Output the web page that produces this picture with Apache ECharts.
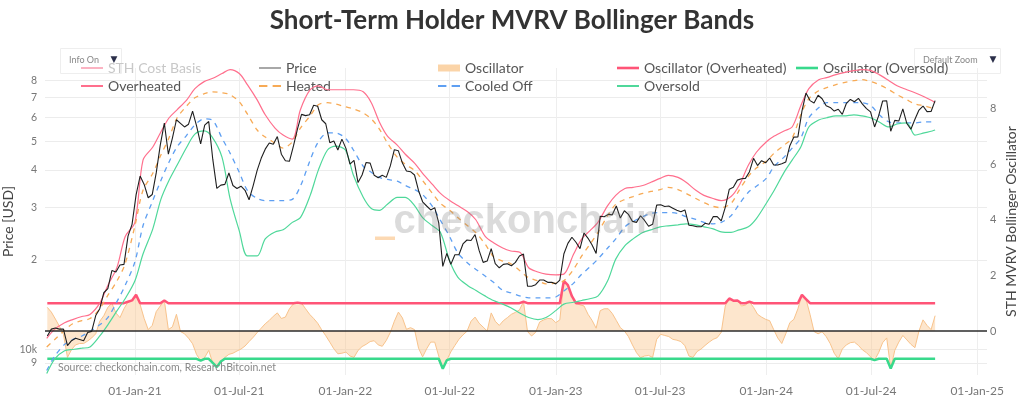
<!DOCTYPE html>
<html>
<head>
<meta charset="utf-8">
<script src="https://cdn.jsdelivr.net/npm/echarts@6.0.0/dist/echarts.min.js"></script>
<style>
html,body{margin:0;padding:0;background:#fff;}
#chart{width:1024px;height:402px;}
</style>
</head>
<body>
<div id="chart"></div>
<script>
// ---------------- DATA ----------------
// Tick labels
const priceTicksK = [9, 10, 20, 30, 40, 50, 60, 70, 80];       // thousand USD
const oscTicks = [0, 2, 4, 6, 8];
const monthNames = ['Jan','Feb','Mar','Apr','May','Jun','Jul','Aug','Sep','Oct','Nov','Dec'];
const dateTickList = [[2021,0],[2021,6],[2022,0],[2022,6],[2023,0],[2023,6],[2024,0],[2024,6],[2025,0]];

// Weekly BTC price (thousand USD), Sundays from 2020-08-02
const price2020 = [11.1,11.7,11.8,11.7,11.7,10.3,10.7,10.9,10.8,10.7,11.4,11.5,13.0,13.7,15.5,16.0,18.4,18.2,19.2,19.3,24.0,26.3];
const price2021 = [33.0,38.2,35.8,32.3,33.1,39.2,48.6,57.5,45.2,51.2,59.0,57.4,55.8,57.0,63.1,56.2,49.0,56.6,58.2,43.5,34.7,35.6,35.8,39.1,35.5,34.7,35.3,34.2,31.8,35.4,39.9,43.8,47.0,49.3,48.8,51.8,45.2,43.0,42.8,48.2,55.0,61.5,60.9,61.3,66.0,65.5,59.0,57.2,49.4,50.1,46.7,50.8];
const price2022 = [47.3,41.9,43.1,36.3,38.5,42.4,42.2,38.4,37.7,38.4,37.8,41.3,46.8,46.4,42.2,39.7,39.5,38.5,34.1,31.3,30.3,29.4,29.9,26.6,19.0,21.0,19.3,20.8,20.8,22.6,23.3,23.2,24.3,21.5,19.6,19.8,21.8,19.4,18.8,19.3,19.4,19.1,19.6,20.6,20.9,16.3,16.3,16.5,17.1,17.1,16.8,16.8];
const price2023 = [16.6,17.1,20.9,22.7,23.8,22.9,21.8,24.6,23.6,22.4,21.0,28.0,27.9,28.4,28.3,30.3,27.6,29.2,28.4,26.9,26.7,28.1,27.1,25.9,26.3,30.5,30.6,30.2,30.3,29.8,29.3,29.0,29.4,26.1,26.0,25.8,25.8,26.5,26.3,27.9,27.9,27.0,30.0,34.5,35.0,37.0,37.4,37.5,39.5,43.8,41.4,43.0,42.3];
const price2024 = [43.9,41.6,41.6,42.0,42.6,48.3,51.6,51.7,63.1,72.5,68.4,67.2,71.3,69.4,65.7,64.9,63.1,64.0,61.5,66.9,69.0,67.8,69.6,66.6,64.3,62.7,55.8,60.8,68.2,68.3,54.0,58.7,58.4,64.2,57.3,54.8,59.2,63.6,65.6,62.8,62.9,68.4];

// Weekly STH MVRV Bollinger oscillator, same dates
const osc2020 = [0.85,0.68,0.43,0.17,-0.12,-0.95,-0.67,-0.5,-0.45,-0.45,-0.36,-0.25,-0.1,0.35,0.55,0.85,1.0,0.65,0.48,0.8,1.05,1.1];
const osc2021 = [1.3,0.95,0.45,0.05,0.2,0.7,0.9,1.1,0.05,0.15,0.6,-0.02,-0.1,-0.26,-0.46,-0.85,-1.07,-0.95,-0.7,-1.15,-1.3,-1.1,-0.95,-0.84,-0.8,-0.72,-0.65,-0.54,-0.38,-0.23,-0.06,0.1,0.26,0.38,0.53,0.65,0.45,0.5,0.8,0.98,1.02,1.0,0.8,0.6,0.45,0.28,0.04,-0.17,-0.4,-0.64,-0.82,-0.8];
const osc2022 = [-0.76,-0.9,-0.95,-0.7,-0.56,-0.48,-0.38,-0.35,-0.5,-0.55,-0.34,-0.05,0.35,0.68,0.47,0.06,0.12,0.05,-0.62,-0.93,-0.64,-0.4,-0.4,-0.9,-1.36,-1.05,-0.75,-0.52,-0.3,-0.14,-0.01,0.35,0.5,0.28,0.14,0.0,0.65,0.35,0.2,0.37,0.48,0.6,0.67,0.76,1.05,-0.02,-0.18,-0.05,0.32,0.4,0.45,0.44];
const osc2023 = [0.3,0.4,1.8,1.65,1.25,1.0,0.94,0.9,0.6,0.38,0.1,0.73,0.8,0.8,0.63,0.38,0.12,0.0,-0.2,-0.5,-0.78,-0.96,-0.9,-0.88,-0.95,-0.3,-0.12,-0.16,-0.2,-0.3,-0.33,-0.38,-0.53,-0.9,-0.95,-0.74,-0.65,-0.52,-0.4,-0.3,-0.24,-0.05,0.9,1.17,1.09,1.1,0.9,0.93,1.05,0.85,0.6,0.5,0.42];
const osc2024 = [0.37,0.05,-0.25,-0.45,-0.1,0.3,0.42,0.8,1.3,1.15,0.6,-0.02,-0.1,-0.03,-0.2,-0.45,-0.8,-1.0,-0.65,-0.5,-0.42,-0.4,-0.52,-0.68,-0.78,-0.93,-1.05,-0.78,-0.42,-0.25,-1.35,-0.7,-0.4,-0.16,-0.32,-0.48,-0.6,0.0,0.4,0.2,0.05,0.55];

// Bollinger bands (thousand USD), sampled on the 1st and 15th of each month from 2020-08-01, last 2024-10-20
const overheated = [
  10.9,11.7,12.3,12.6,12.9,13.1,14.3,16.4,18.9,23.9,
  26.7,43.2,47.8,53.7,59.8,63.7,68.8,75.0,79.2,81.1,84.3,86.9,84.3,77.4,68.8,61.3,55.3,52.4,50.8,63.7,74.4,76.7,74.4,74.4,
  74.4,74.4,73.2,67.3,58.0,52.0,48.5,45.2,42.2,39.0,35.8,33.4,31.6,30.4,29.0,27.3,23.9,22.8,21.9,21.4,21.1,18.8,18.2,17.9,
  17.8,17.9,20.9,23.5,25.0,26.7,30.4,32.9,34.7,35.0,35.5,36.4,37.5,38.4,37.8,36.4,34.2,32.9,32.1,31.6,32.6,35.5,41.5,45.9,
  49.7,52.0,54.1,55.8,65.7,75.0,80.4,81.7,83.6,84.9,86.2,86.9,86.2,83.6,79.8,76.7,74.4,72.7,70.5,68.3,67.3];
const heated = [
  10.2,10.8,11.6,12.2,12.5,12.7,13.7,15.2,17.0,19.4,
  26.0,34.2,39.0,44.9,51.2,59.8,65.7,69.9,72.1,73.2,72.7,71.6,67.8,61.7,54.5,51.6,49.3,47.4,49.7,55.3,60.8,66.2,67.3,66.7,
  65.2,64.2,62.2,59.4,54.9,49.3,44.2,41.8,39.9,36.9,33.4,30.9,29.3,27.7,26.0,24.7,22.5,20.5,19.8,19.4,18.3,17.4,17.0,16.6,
  16.7,17.0,18.6,20.6,22.5,24.7,28.1,30.7,31.9,32.6,33.4,33.9,34.4,35.0,34.4,33.4,32.1,31.1,30.2,29.9,30.9,34.2,38.1,40.6,
  42.8,45.6,48.5,51.2,61.3,69.4,73.8,75.6,77.4,78.6,79.8,80.4,79.2,77.4,74.4,71.6,68.8,66.7,65.7,64.7,64.7];
const cooledOff = [
  8.5,9.5,10.4,10.8,11.1,11.5,12.1,12.8,14.5,16.4,
  19.7,26.0,31.6,36.9,42.5,47.8,52.4,56.7,59.4,58.9,51.2,45.6,39.3,34.2,32.1,31.6,31.6,31.6,31.9,35.3,43.2,49.7,53.3,53.3,
  51.2,46.7,41.2,39.3,37.8,37.2,36.7,35.5,34.4,33.1,30.2,27.1,23.9,21.1,19.5,18.6,17.6,16.8,15.8,15.5,15.1,14.9,14.9,14.9,
  15.0,15.7,16.7,17.9,18.9,20.1,21.9,23.5,25.8,26.9,27.9,28.6,28.8,28.8,28.6,27.9,27.3,26.7,26.4,26.7,28.1,30.7,33.7,35.3,
  37.5,41.2,44.2,47.4,51.2,59.9,64.7,67.3,67.3,67.3,67.3,67.3,65.7,61.3,58.0,57.6,57.6,57.6,58.0,58.0,58.5];
const oversold = [
  8.3,9.3,9.9,10.0,10.1,10.2,11.1,12.1,13.5,14.8,
  17.0,20.9,25.4,31.9,36.9,41.5,47.8,52.8,54.1,51.6,44.2,32.1,25.0,20.6,20.6,23.5,24.8,25.2,26.7,27.7,32.9,39.9,46.7,48.1,
  46.7,38.4,32.4,29.7,29.3,30.7,32.4,32.4,30.4,27.7,26.0,24.7,19.8,17.5,16.4,15.8,15.1,14.6,14.2,13.8,13.2,12.8,12.6,12.8,
  13.5,14.2,14.4,14.6,14.8,15.1,17.0,20.1,22.3,23.5,24.7,25.2,25.8,26.0,26.2,26.4,26.2,25.8,25.4,24.8,24.7,25.2,25.8,27.5,
  30.9,34.2,39.3,43.2,47.8,55.8,58.9,59.9,60.8,60.8,61.3,60.8,59.8,58.0,55.8,57.1,57.6,52.4,53.3,54.1,54.5];

// ---------------- BUILD ----------------
const priceK = [].concat(price2020, price2021, price2022, price2023, price2024);
const osc = [].concat(osc2020, osc2021, osc2022, osc2023, osc2024);
const weekDates = priceK.map((_, i) => new Date(2020, 7, 2 + 7 * i).getTime());
const bandDates = [];
for (let y = 2020; y <= 2024; y++) {
  for (let m = 0; m < 12; m++) {
    if (y === 2020 && m < 7) continue;
    if (y === 2024 && m > 9) break;
    bandDates.push(new Date(y, m, 1).getTime(), new Date(y, m, 15).getTime());
  }
}
bandDates.push(new Date(2024, 9, 20).getTime());
const dateTicks = dateTickList.map(d => new Date(d[0], d[1], 1).getTime());

const pair = (dates, vals) => vals.map((v, i) => [dates[i], v]);
const oscHot = osc.map(v => Math.max(v, 1));
const oscCold = osc.map(v => Math.min(v, -1));

const FONT = 'Lato, "Open Sans", sans-serif';
const ICON_LINE = 'path://M0,0H22V2H0Z';
const ICON_THICK = 'path://M0,0H22V2.6H0Z';
const ICON_DASH = 'path://M0,0H8V2H0ZM13,0H21V2H13Z';
function leg(item, left, top, icon, extra) {
  return Object.assign({
    data: [item], left: left, top: top, itemWidth: 22, itemHeight: 14, itemGap: 0,
    selectedMode: false, padding: 0, icon: icon, symbolKeepAspect: true,
    textStyle: { color: '#555', fontSize: 14, fontFamily: FONT }
  }, extra || {});
}

const chart = echarts.init(document.getElementById('chart'), null, { renderer: 'canvas' });
chart.setOption({
  animation: false,
  backgroundColor: '#fff',
  title: {
    text: 'Short-Term Holder MVRV Bollinger Bands',
    left: 'center', top: 3,
    textStyle: { fontFamily: FONT, fontSize: 26, fontWeight: 'bold', color: '#333' }
  },
  grid: { left: 45, right: 37, top: 68, bottom: 27, outerBoundsMode: 'none', containLabel: false },
  legend: [
    leg({ name: 'STH Cost Basis', textStyle: { color: '#c8c8c8' }, itemStyle: { color: '#fbb3c2' } }, 81, 61, ICON_LINE),
    leg({ name: 'Price', itemStyle: { color: '#a8a8a8' } }, 259, 61, ICON_LINE),
    leg({ name: 'Oscillator', itemStyle: { color: '#fbd4a8' } }, 438, 61, 'rect', { itemHeight: 7 }),
    leg('Oscillator (Overheated)', 617, 61, ICON_THICK),
    leg('Oscillator (Oversold)', 796, 61, ICON_THICK),
    leg('Overheated', 81, 79, ICON_LINE),
    leg('Heated', 259, 79, ICON_DASH),
    leg('Cooled Off', 438, 79, ICON_DASH),
    leg('Oversold', 617, 79, ICON_LINE)
  ],
  xAxis: {
    type: 'value',
    min: new Date(2020, 6, 29).getTime(),
    max: new Date(2025, 0, 18).getTime(),
    axisLine: { show: false },
    axisTick: { show: false, customValues: dateTicks },
    splitLine: { show: true, lineStyle: { color: '#eeeeee', width: 1 } },
    axisLabel: {
      customValues: dateTicks, margin: 10,
      color: '#777', fontSize: 12, fontFamily: FONT,
      formatter: v => { const d = new Date(v); return '01-' + monthNames[d.getMonth()] + '-' + String(d.getFullYear()).slice(2); }
    }
  },
  yAxis: [
    {
      type: 'log', logBase: 10, min: 8.21, max: 88.0,
      name: 'Price [USD]', nameLocation: 'middle', nameGap: 30, nameRotate: 90, nameMoveOverlap: false,
      nameTextStyle: { color: '#444', fontSize: 14, fontFamily: FONT },
      axisLine: { show: false },
      axisTick: { show: false, customValues: priceTicksK },
      splitLine: { show: true, lineStyle: { color: '#ececec', width: 1 } },
      axisLabel: {
        customValues: priceTicksK, margin: 8, color: '#777', fontSize: 10.5, fontFamily: FONT,
        formatter: v => v === 10 ? '10k' : (v < 10 ? String(v) : String(Math.round(v / 10)))
      }
    },
    {
      type: 'value', min: -1.583, max: 9.46, position: 'right',
      name: 'STH MVRV Bollinger Oscillator', nameLocation: 'middle', nameGap: 17, nameRotate: 90, nameMoveOverlap: false,
      nameTextStyle: { color: '#444', fontSize: 14, fontFamily: FONT },
      axisLine: { show: false },
      axisTick: { show: false, customValues: oscTicks },
      splitLine: { show: false },
      axisLabel: { customValues: oscTicks, margin: 3, color: '#777', fontSize: 11, fontFamily: FONT }
    }
  ],
  series: [
    { name: 'STH Cost Basis', type: 'line', yAxisIndex: 0, data: [], symbol: 'none', color: '#fbb3c2' },
    {
      name: 'Oscillator', type: 'line', yAxisIndex: 1, data: pair(weekDates, osc),
      symbol: 'none', color: '#fbd4a8', z: 2,
      lineStyle: { color: '#f8c38c', width: 1 },
      areaStyle: { color: 'rgba(251,198,140,0.62)' },
      markLine: {
        silent: true, symbol: ['none', 'none'], label: { show: false },
        lineStyle: { color: '#2b2b2b', width: 1.6, type: 'solid' },
        data: [{ yAxis: 0 }]
      }
    },
    { name: 'Oscillator (Overheated)', type: 'line', yAxisIndex: 1, data: pair(weekDates, oscHot), symbol: 'none', color: '#ff5477', lineStyle: { width: 2.5 }, z: 3 },
    { name: 'Oscillator (Oversold)', type: 'line', yAxisIndex: 1, data: pair(weekDates, oscCold), symbol: 'none', color: '#38d98c', lineStyle: { width: 2.5 }, z: 3 },
    { name: 'Overheated', type: 'line', yAxisIndex: 0, data: pair(bandDates, overheated), symbol: 'none', smooth: 0.3, color: '#ff6f8d', lineStyle: { width: 1.2 }, z: 4 },
    { name: 'Heated', type: 'line', yAxisIndex: 0, data: pair(bandDates, heated), symbol: 'none', smooth: 0.3, color: '#f7aa55', lineStyle: { width: 1.3, type: [5, 5] }, z: 4 },
    { name: 'Cooled Off', type: 'line', yAxisIndex: 0, data: pair(bandDates, cooledOff), symbol: 'none', smooth: 0.3, color: '#5e9ff2', lineStyle: { width: 1.3, type: [5, 5] }, z: 4 },
    { name: 'Oversold', type: 'line', yAxisIndex: 0, data: pair(bandDates, oversold), symbol: 'none', smooth: 0.3, color: '#4fd89a', lineStyle: { width: 1.2 }, z: 4 },
    { name: 'Price', type: 'line', yAxisIndex: 0, data: pair(weekDates, priceK), symbol: 'none', color: '#1f1f1f', lineStyle: { width: 1.1 }, z: 5 }
  ],
  graphic: { elements: [
    { type: 'rect', z: 0, shape: { x: 60.5, y: 48.5, width: 61, height: 25 }, style: { fill: '#fff', stroke: '#eeeeee', lineWidth: 1 } },
    { type: 'text', z: 1, x: 69, y: 60, style: { text: 'Info On', fill: '#888', fontSize: 9, fontFamily: FONT, verticalAlign: 'middle' } },
    { type: 'text', z: 1, x: 114, y: 60, style: { text: '▼', fill: '#2b2f4a', fontSize: 9, align: 'center', verticalAlign: 'middle', fontFamily: 'DejaVu Sans' } },
    { type: 'rect', z: 0, shape: { x: 914.5, y: 48.5, width: 86, height: 25 }, style: { fill: '#fff', stroke: '#eeeeee', lineWidth: 1 } },
    { type: 'text', z: 1, x: 923, y: 60, style: { text: 'Default Zoom', fill: '#888', fontSize: 9, fontFamily: FONT, verticalAlign: 'middle' } },
    { type: 'text', z: 1, x: 993, y: 60, style: { text: '▼', fill: '#2b2f4a', fontSize: 9, align: 'center', verticalAlign: 'middle', fontFamily: 'DejaVu Sans' } },
    { type: 'text', z: 10, x: 527, y: 222, style: { text: 'checkonchain', fill: 'rgba(125,125,125,0.28)', fontSize: 40, fontWeight: 'bold', fontFamily: '"Liberation Sans", Arial, sans-serif', align: 'center', verticalAlign: 'middle' } },
    { type: 'rect', z: 10, shape: { x: 375, y: 236.5, width: 20, height: 3.5 }, style: { fill: '#fcd9b3' } },
    { type: 'text', z: 10, x: 58, y: 368, style: { text: 'Source: checkonchain.com, ResearchBitcoin.net', fill: '#888', fontSize: 10.5, fontFamily: FONT, verticalAlign: 'middle' } }
  ] }
});
</script>
</body>
</html>
